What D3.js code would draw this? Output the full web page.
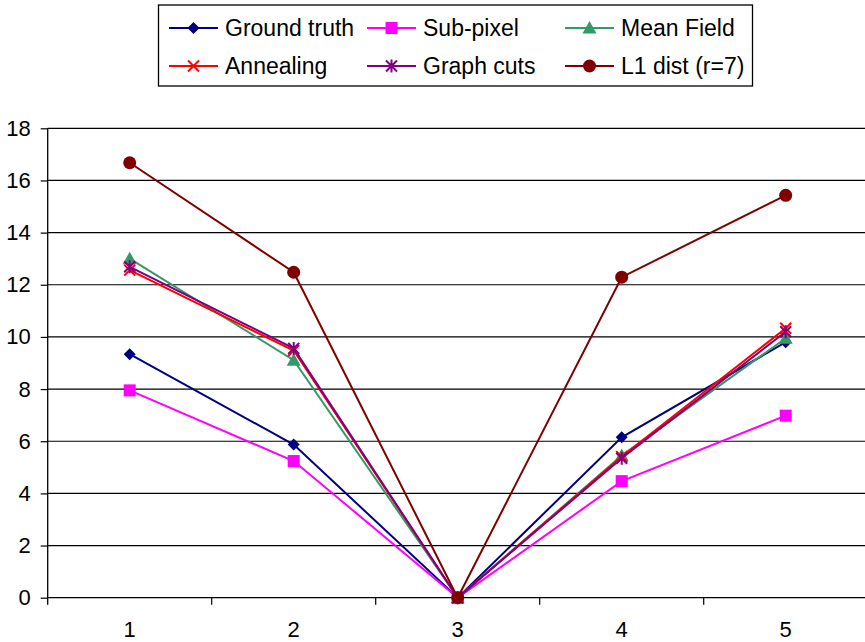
<!DOCTYPE html>
<html><head><meta charset="utf-8">
<script src="https://cdn.jsdelivr.net/npm/d3@7"></script>
<style>body{margin:0;background:#fff}svg{display:block}text{font-family:"Liberation Sans",Arial,sans-serif;fill:#000}</style>
</head><body><svg id="c" width="865" height="642"></svg>
<script>
const categories = ["1","2","3","4","5"];
const yTicks = [0,2,4,6,8,10,12,14,16,18];
const seriesNames = ["Ground truth","Sub-pixel","Mean Field","Annealing","Graph cuts","L1 dist (r=7)"];
const groundTruth = [9.34, 5.87, 0, 6.15, 9.8];
const subPixel    = [7.95, 5.24, 0, 4.47, 6.98];
const meanField   = [13.0, 9.11, 0, 5.45, 9.95];
const annealing   = [12.56, 9.48, 0, 5.41, 10.33];
const graphCuts   = [12.69, 9.56, 0, 5.35, 10.2];
const l1Dist      = [16.68, 12.48, 0, 12.29, 15.43];
const colors = ["#000080","#FF00FF","#339966","#FF0000","#800080","#800000"];
const markers = ["diamond","square","triangle","x","star","circle"];
const seriesValues = [groundTruth, subPixel, meanField, annealing, graphCuts, l1Dist];

const svg = d3.select("#c");
const L = 47.7, R = 867.7, T = 128.3, B = 597.7;
const x = d3.scaleBand().domain(categories).range([L, R]);
const y = d3.scaleLinear().domain([0, 18]).range([B, T]);

// gridlines
svg.append("g").selectAll("line").data(yTicks.filter(d => d > 0)).join("line")
  .attr("x1", L).attr("x2", R).attr("y1", d => y(d)).attr("y2", d => y(d))
  .attr("stroke", "#000").attr("stroke-width", 1.2);

// y axis
const yAxis = svg.append("g").attr("transform", `translate(${L},0)`)
  .call(d3.axisLeft(y).tickValues(yTicks).tickSize(7).tickPadding(10));
yAxis.select(".domain").attr("stroke", "#000").attr("stroke-width", 1.3).attr("d", `M0,${T}V${B+7}`);
yAxis.selectAll(".tick line").attr("stroke", "#000").attr("stroke-width", 1.2);
yAxis.selectAll(".tick text").attr("font-size", 22).attr("font-family", "Liberation Sans, Arial, sans-serif").attr("fill", "#000");

// x axis
const xAxis = svg.append("g").attr("transform", `translate(0,${B})`)
  .call(d3.axisBottom(x).tickSize(0).tickPadding(24));
xAxis.select(".domain").attr("stroke", "#000").attr("stroke-width", 1.3).attr("d", `M${L},0H${R}`);
xAxis.selectAll(".tick text").attr("font-size", 22).attr("font-family", "Liberation Sans, Arial, sans-serif").attr("fill", "#000");
svg.append("g").selectAll("line").data(categories.slice(1)).join("line")
  .attr("x1", d => x(d)).attr("x2", d => x(d)).attr("y1", B).attr("y2", B + 7)
  .attr("stroke", "#000").attr("stroke-width", 1.2);

function drawMarker(g, type, color, cx, cy) {
  if (type === "diamond") {
    g.append("path").attr("d", `M${cx},${cy-6}L${cx+6},${cy}L${cx},${cy+6}L${cx-6},${cy}Z`).attr("fill", color);
  } else if (type === "square") {
    g.append("rect").attr("x", cx-6).attr("y", cy-6).attr("width", 12).attr("height", 12).attr("fill", color);
  } else if (type === "triangle") {
    g.append("path").attr("d", `M${cx},${cy-7}L${cx+7},${cy+5.5}L${cx-7},${cy+5.5}Z`).attr("fill", color);
  } else if (type === "x") {
    g.append("path").attr("d", `M${cx-5.5},${cy-5.5}L${cx+5.5},${cy+5.5}M${cx-5.5},${cy+5.5}L${cx+5.5},${cy-5.5}`).attr("stroke", color).attr("stroke-width", 2);
  } else if (type === "star") {
    g.append("path").attr("d", `M${cx-5.5},${cy-5.5}L${cx+5.5},${cy+5.5}M${cx-5.5},${cy+5.5}L${cx+5.5},${cy-5.5}M${cx},${cy-6.5}L${cx},${cy+6.5}`).attr("stroke", color).attr("stroke-width", 2);
  } else if (type === "circle") {
    g.append("circle").attr("cx", cx).attr("cy", cy).attr("r", 6.5).attr("fill", color);
  }
}

const line = d3.line().x((d, i) => x(categories[i]) + x.bandwidth() / 2).y(d => y(d));
seriesValues.forEach((vals, s) => {
  const g = svg.append("g");
  g.append("path").attr("d", line(vals)).attr("fill", "none").attr("stroke", colors[s]).attr("stroke-width", 2);
  vals.forEach((v, i) => drawMarker(g, markers[s], colors[s], x(categories[i]) + x.bandwidth() / 2, y(v)));
});

// legend
const lg = svg.append("g");
lg.append("rect").attr("x", 158.5).attr("y", 5).attr("width", 594).attr("height", 81)
  .attr("fill", "#fff").attr("stroke", "#000").attr("stroke-width", 1.3);
const colX = [169, 367, 565];
const rowY = [28, 66];
seriesNames.forEach((name, s) => {
  const cx = colX[s % 3], cy = rowY[Math.floor(s / 3)];
  const g = lg.append("g");
  g.append("line").attr("x1", cx).attr("x2", cx + 49).attr("y1", cy).attr("y2", cy).attr("stroke", colors[s]).attr("stroke-width", 2);
  drawMarker(g, markers[s], colors[s], cx + 24.5, cy);
  g.append("text").attr("x", cx + 56).attr("y", cy).attr("dy", "0.35em").attr("font-size", 23).text(name);
});
</script></body></html>
